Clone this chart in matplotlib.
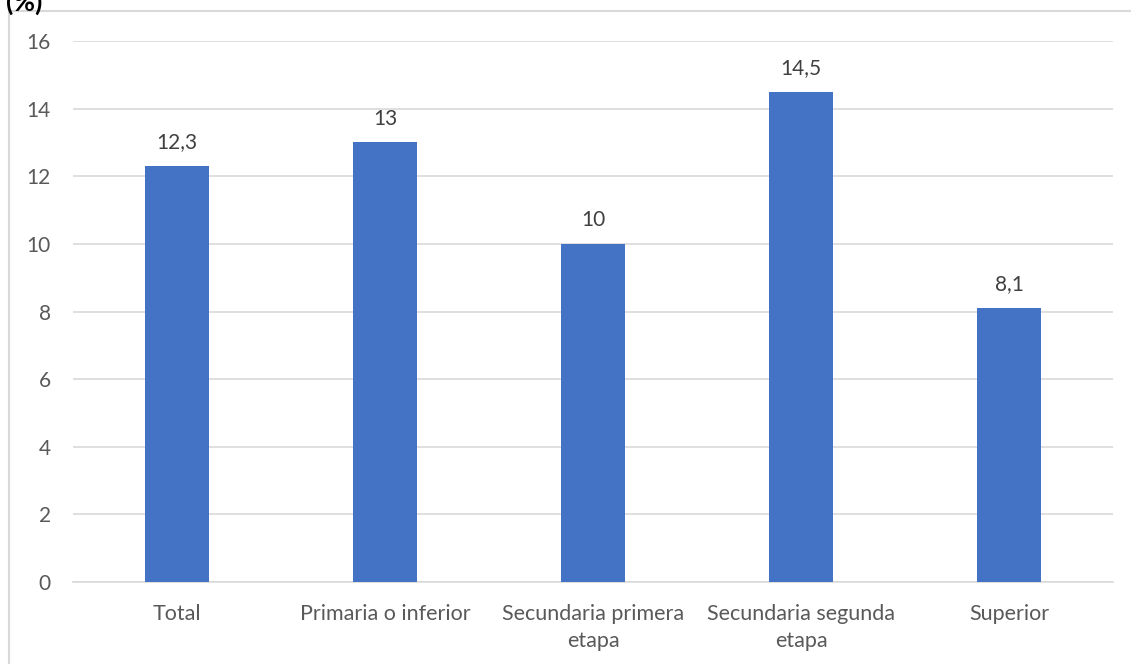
import matplotlib.pyplot as plt
from matplotlib.patches import Rectangle

categorias = ['Total', 'Primaria o inferior', 'Secundaria primera\netapa',
              'Secundaria segunda\netapa', 'Superior']
valores = [12.3, 13, 10, 14.5, 8.1]
etiquetas = ['12,3', '13', '10', '14,5', '8,1']
yticks = [0, 2, 4, 6, 8, 10, 12, 14, 16]

plt.rcParams['font.family'] = ['Lato', 'DejaVu Sans']

W, H = 1131, 664
fig = plt.figure(figsize=(W / 100, H / 100), dpi=100)

# borde del área del gráfico
fig.patches.append(Rectangle((9 / W, -0.1), 1.2, (H - 11) / H + 0.1,
                             transform=fig.transFigure, fill=False,
                             edgecolor='#d9d9d9', linewidth=1.5))

ax = fig.add_axes([73 / W, (H - 582) / H, (1113 - 73) / W, (582 - 41) / H])

x = range(len(categorias))
ax.bar(x, valores, width=0.31, color='#4472C4', zorder=3)
for xi, v, t in zip(x, valores, etiquetas):
    ax.annotate(t, (xi, v), xytext=(0, 10), textcoords='offset points',
                ha='center', va='bottom', fontsize=15, color='#404040')

ax.set_xlim(-0.5, len(categorias) - 0.5)
ax.set_ylim(0, 16)
ax.set_yticks(yticks)
ax.set_xticks(list(x))
ax.set_xticklabels(categorias, fontsize=15.5, color='#595959', linespacing=1.4)
ax.tick_params(axis='y', labelsize=15, labelcolor='#595959', length=0, pad=16)
ax.tick_params(axis='x', length=0, pad=16)
ax.grid(axis='y', color='#d9d9d9', linewidth=1.2, zorder=0)
for s in ['top', 'right', 'left']:
    ax.spines[s].set_visible(False)
ax.spines['bottom'].set_color('#d9d9d9')
ax.spines['bottom'].set_linewidth(1.2)

fig.text(6 / W, 1 - 2 / H, '(%)', fontsize=19, fontweight='bold',
         color='#000000', ha='left', va='center')

fig.savefig('out.png', dpi=100)
